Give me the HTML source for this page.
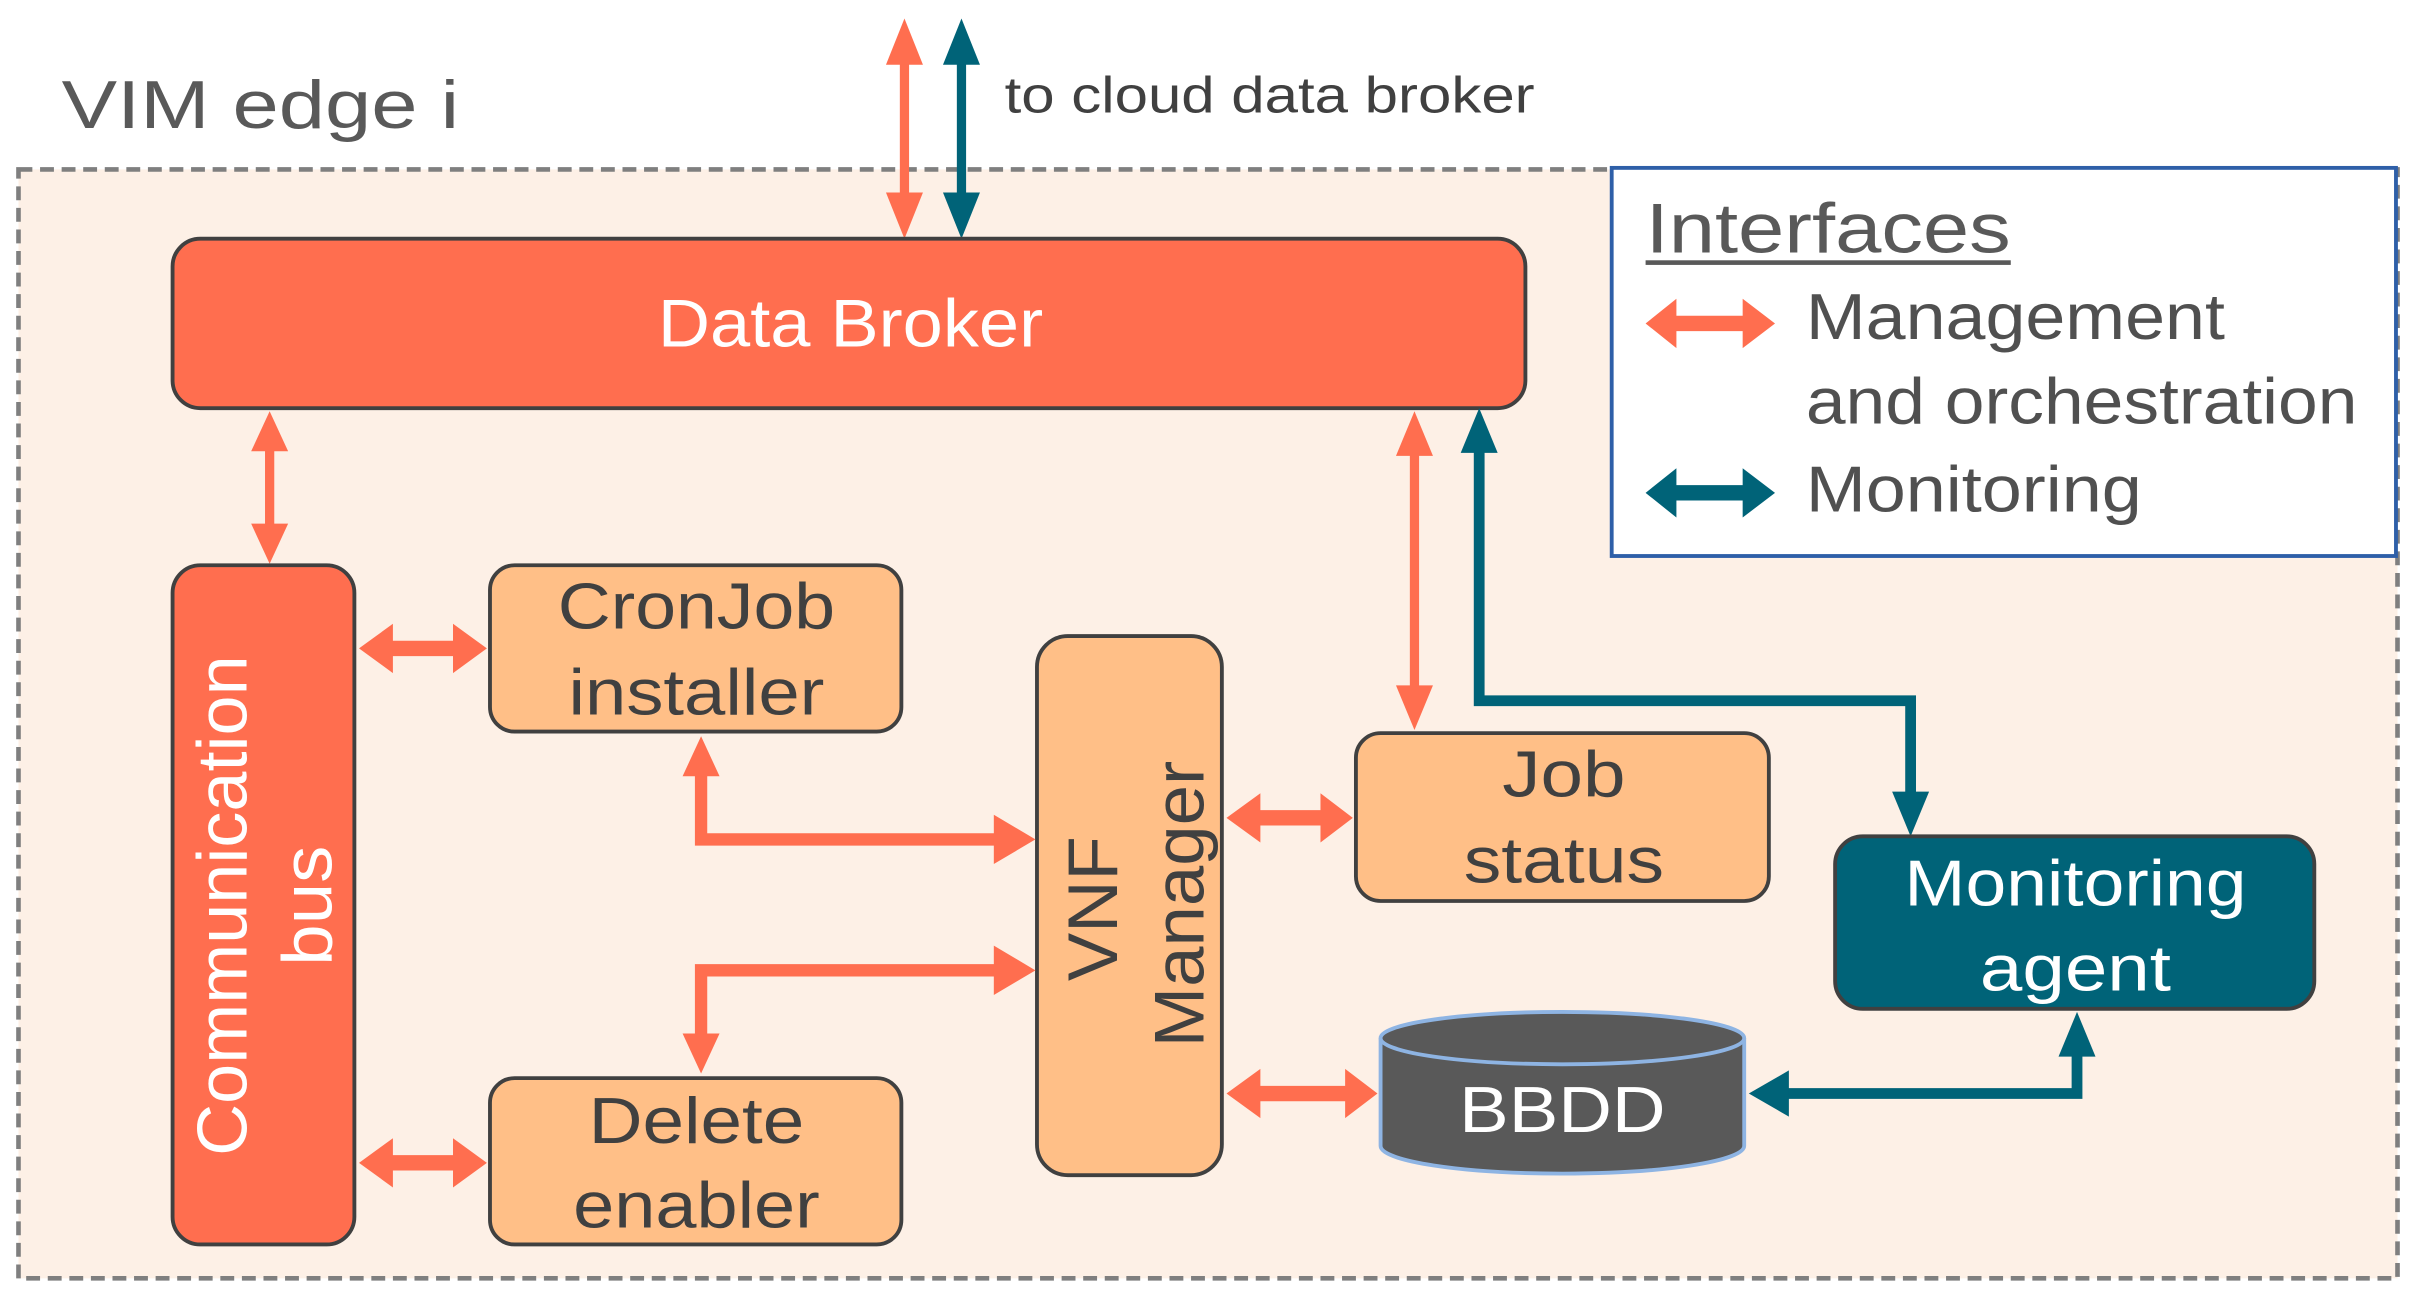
<!DOCTYPE html>
<html><head><meta charset="utf-8"><style>
html,body{margin:0;padding:0;background:#fff;}
svg{display:block;}
text{font-family:"Liberation Sans",Arial,sans-serif;}
</style></head><body>
<svg width="2416" height="1303" viewBox="0 0 1568 846" preserveAspectRatio="none" xmlns="http://www.w3.org/2000/svg">
<rect x="0" y="0" width="1568" height="846" fill="#fff"/>
<!-- outer dashed container -->
<rect x="12" y="110" width="1544" height="720" fill="#fdf0e6" stroke="#7f7f7f" stroke-width="3" stroke-dasharray="9,5"/>
<text x="40" y="83" font-size="44" fill="#595959" textLength="258" lengthAdjust="spacingAndGlyphs">VIM edge i</text>
<text x="652" y="73" font-size="33" fill="#404040" textLength="344" lengthAdjust="spacingAndGlyphs">to cloud data broker</text>

<!-- legend -->
<rect x="1046" y="109" width="509" height="252" fill="#fff" stroke="#2e5fa8" stroke-width="2.5"/>
<text x="1068" y="164" font-size="46" fill="#595959" textLength="237" lengthAdjust="spacingAndGlyphs">Interfaces</text>
<rect x="1068" y="169" width="237" height="3" fill="#595959"/>
<polygon points="1068,210 1088,194 1088,205 1131,205 1131,194 1152,210 1131,226 1131,215 1088,215 1088,226" fill="#ff6e4f"/>
<text x="1172" y="220" font-size="42" fill="#505050" textLength="272" lengthAdjust="spacingAndGlyphs">Management</text>
<text x="1172" y="275" font-size="42" fill="#505050" textLength="358" lengthAdjust="spacingAndGlyphs">and orchestration</text>
<polygon points="1068,320 1088,304 1088,315 1131,315 1131,304 1152,320 1131,336 1131,325 1088,325 1088,336" fill="#006378"/>
<text x="1172" y="332" font-size="42" fill="#505050" textLength="218" lengthAdjust="spacingAndGlyphs">Monitoring</text>

<!-- top external arrows -->
<rect x="584" y="30" width="6" height="108" fill="#ff6e4f"/>
<polygon points="587,12 599,42 575,42" fill="#ff6e4f"/>
<polygon points="587,155 599,125 575,125" fill="#ff6e4f"/>
<rect x="621" y="30" width="6" height="108" fill="#006378"/>
<polygon points="624,12 636,42 612,42" fill="#006378"/>
<polygon points="624,155 636,125 612,125" fill="#006378"/>

<!-- Data Broker -->
<rect x="112" y="155" width="878" height="110" rx="18" fill="#ff6e4f" stroke="#404040" stroke-width="2.5"/>
<text x="552" y="225" font-size="44" fill="#fff" text-anchor="middle" textLength="250" lengthAdjust="spacingAndGlyphs">Data Broker</text>

<!-- DB <-> comm bus -->
<rect x="172" y="285" width="6" height="62" fill="#ff6e4f"/>
<polygon points="175,267 187,293 163,293" fill="#ff6e4f"/>
<polygon points="175,366 187,340 163,340" fill="#ff6e4f"/>

<!-- Communication bus -->
<rect x="112" y="367" width="118" height="441" rx="18" fill="#ff6e4f" stroke="#404040" stroke-width="2.5"/>
<text transform="translate(160,588) rotate(-90)" font-size="46" fill="#fff" text-anchor="middle" textLength="325" lengthAdjust="spacingAndGlyphs">Communication</text>
<text transform="translate(215,588) rotate(-90)" font-size="46" fill="#fff" text-anchor="middle" textLength="78" lengthAdjust="spacingAndGlyphs">bus</text>

<!-- CronJob installer -->
<rect x="318" y="367" width="267" height="108" rx="16" fill="#ffbf87" stroke="#404040" stroke-width="2.5"/>
<text x="452" y="408" font-size="42" fill="#404040" text-anchor="middle" textLength="180" lengthAdjust="spacingAndGlyphs">CronJob</text>
<text x="452" y="464" font-size="42" fill="#404040" text-anchor="middle" textLength="166" lengthAdjust="spacingAndGlyphs">installer</text>

<!-- Delete enabler -->
<rect x="318" y="700" width="267" height="108" rx="16" fill="#ffbf87" stroke="#404040" stroke-width="2.5"/>
<text x="452" y="742" font-size="42" fill="#404040" text-anchor="middle" textLength="140" lengthAdjust="spacingAndGlyphs">Delete</text>
<text x="452" y="797" font-size="42" fill="#404040" text-anchor="middle" textLength="160" lengthAdjust="spacingAndGlyphs">enabler</text>

<!-- comm <-> cron / delete -->
<polygon points="233,421 255,405 255,416 294,416 294,405 316,421 294,437 294,426 255,426 255,437" fill="#ff6e4f"/>
<polygon points="233,755 255,739 255,750 294,750 294,739 316,755 294,771 294,760 255,760 255,771" fill="#ff6e4f"/>

<!-- VNF Manager -->
<rect x="673" y="413" width="120" height="350" rx="20" fill="#ffbf87" stroke="#404040" stroke-width="2.5"/>
<text transform="translate(725,590) rotate(-90)" font-size="46" fill="#404040" text-anchor="middle" textLength="94" lengthAdjust="spacingAndGlyphs">VNF</text>
<text transform="translate(781,587) rotate(-90)" font-size="46" fill="#404040" text-anchor="middle" textLength="186" lengthAdjust="spacingAndGlyphs">Manager</text>

<!-- cron -> VNF -->
<polyline points="455,500 455,545 648,545" fill="none" stroke="#ff6e4f" stroke-width="8"/>
<polygon points="455,478 467,504 443,504" fill="#ff6e4f"/>
<polygon points="672,545 645,529 645,561" fill="#ff6e4f"/>
<!-- delete -> VNF -->
<polyline points="455,672 455,630 648,630" fill="none" stroke="#ff6e4f" stroke-width="8"/>
<polygon points="455,697 467,671 443,671" fill="#ff6e4f"/>
<polygon points="672,630 645,614 645,646" fill="#ff6e4f"/>

<!-- Job status -->
<rect x="880" y="476" width="268" height="109" rx="16" fill="#ffbf87" stroke="#404040" stroke-width="2.5"/>
<text x="1015" y="517" font-size="42" fill="#404040" text-anchor="middle" textLength="80" lengthAdjust="spacingAndGlyphs">Job</text>
<text x="1015" y="573" font-size="42" fill="#404040" text-anchor="middle" textLength="130" lengthAdjust="spacingAndGlyphs">status</text>

<!-- VNF <-> Job, VNF <-> BBDD -->
<polygon points="796,531 818,515 818,526 857,526 857,515 878,531 857,547 857,536 818,536 818,547" fill="#ff6e4f"/>
<polygon points="796,710 818,694 818,705 873,705 873,694 894,710 873,726 873,715 818,715 818,726" fill="#ff6e4f"/>

<!-- DB <-> Job status -->
<rect x="915" y="290" width="6" height="160" fill="#ff6e4f"/>
<polygon points="918,267 930,296 906,296" fill="#ff6e4f"/>
<polygon points="918,474 930,445 906,445" fill="#ff6e4f"/>

<!-- DB <-> Monitoring agent (teal) -->
<polyline points="960,290 960,455 1240,455 1240,518" fill="none" stroke="#006378" stroke-width="7"/>
<polygon points="960,265 972,294 948,294" fill="#006378"/>
<polygon points="1240,543 1252,514 1228,514" fill="#006378"/>

<!-- Monitoring agent -->
<rect x="1191" y="543" width="311" height="112" rx="18" fill="#006378" stroke="#404040" stroke-width="2.5"/>
<text x="1347" y="588" font-size="42" fill="#fff" text-anchor="middle" textLength="222" lengthAdjust="spacingAndGlyphs">Monitoring</text>
<text x="1347" y="643" font-size="42" fill="#fff" text-anchor="middle" textLength="124" lengthAdjust="spacingAndGlyphs">agent</text>

<!-- BBDD cylinder -->
<path d="M896,674 L896,744 A118,18 0 0 0 1132,744 L1132,674" fill="#595959" stroke="#8eb4e3" stroke-width="2.5"/>
<ellipse cx="1014" cy="674" rx="118" ry="17" fill="#595959" stroke="#8eb4e3" stroke-width="2.5"/>
<text x="1014" y="735" font-size="42" fill="#fff" text-anchor="middle" textLength="134" lengthAdjust="spacingAndGlyphs">BBDD</text>

<!-- BBDD <-> Monitoring agent -->
<polyline points="1158,710 1348,710 1348,682" fill="none" stroke="#006378" stroke-width="7"/>
<polygon points="1135,710 1161,695 1161,725" fill="#006378"/>
<polygon points="1348,657 1360,686 1336,686" fill="#006378"/>
</svg>
</body></html>
